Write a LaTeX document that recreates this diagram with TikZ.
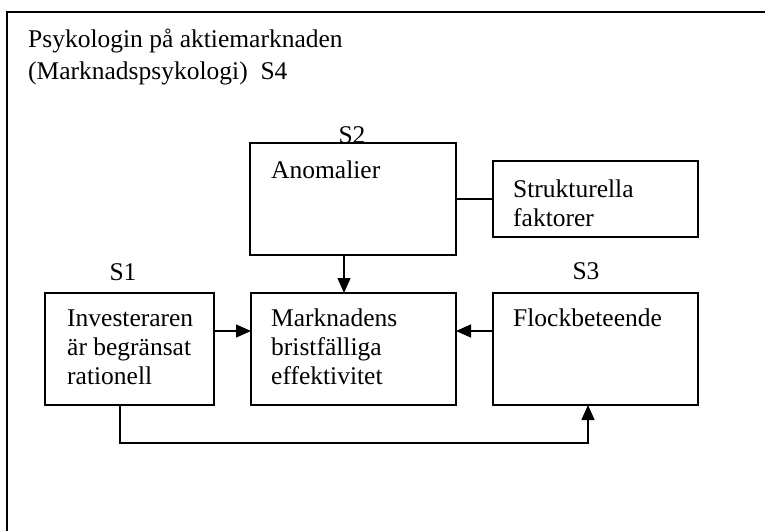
\documentclass[tikz,border=0pt]{standalone}
\usepackage{fontspec}
\setmainfont{Liberation Serif}
\usetikzlibrary{arrows.meta}
\tikzset{
  box/.style={draw, line width=1.7pt, inner sep=0pt, outer sep=0pt, rectangle},
  txt/.style={anchor=base west, inner sep=0pt, font=\fontsize{25.5}{29}\selectfont},
  lbl/.style={anchor=base, inner sep=0pt, font=\fontsize{25.5}{29}\selectfont},
  conn/.style={line width=1.3pt},
  arr/.style={line width=1.3pt, -{Triangle[length=15pt,width=13pt]}},
}
\begin{document}
\begin{tikzpicture}[x=1pt,y=-1pt]
\useasboundingbox (0,0) rectangle (765,530);
% outer frame
\coordinate (fbl) at (7,531);
\coordinate (ftl) at (7,12);
\coordinate (ftr) at (766,12);
\draw[line width=1.6pt] (fbl) -- (ftl) -- (ftr);
% title
\node[txt] (t1) at (28,47) {Psykologin på aktiemarknaden};
\node[txt] (t2) at (28,79) {(Marknadspsykologi)\hspace{0.5em}S4};
% boxes
\node[box, minimum width=206pt, minimum height=112pt] (anom) at (353,199) {};
\node[box, minimum width=205pt, minimum height=76pt] (strukt) at (595.5,199) {};
\node[box, minimum width=169pt, minimum height=112pt] (inv) at (129.5,349) {};
\node[box, minimum width=205pt, minimum height=112pt] (mark) at (353.5,349) {};
\node[box, minimum width=205pt, minimum height=112pt] (flock) at (595.5,349) {};
% labels
\node[lbl] (s1) at (123,280) {S1};
\node[lbl] (s2) at (352,143) {S2};
\node[lbl] (s3) at (586,279) {S3};
% box texts
\node[txt] (anomt) at (271,178) {Anomalier};
\node[txt] (strukta) at (513,197) {Strukturella};
\node[txt] (struktb) at (513,226) {faktorer};
\node[txt] (inva) at (67,326) {Investeraren};
\node[txt] (invb) at (67,355) {är begränsat};
\node[txt] (invc) at (67,384) {rationell};
\node[txt] (marka) at (271,326) {Marknadens};
\node[txt] (markb) at (271,355) {bristfälliga};
\node[txt] (markc) at (271,384) {effektivitet};
\node[txt] (flockt) at (513,326) {Flockbeteende};
% connectors
\draw[conn] (anom.east) -- (strukt.west);
\coordinate (anoms) at ([xshift=-9pt]anom.south);
\draw[arr] (anoms) -- (anoms |- mark.north);
\coordinate (inve) at ([yshift=18pt]inv.east);
\draw[arr] (inve) -- (inve -| mark.west);
\coordinate (flockw) at ([yshift=18pt]flock.west);
\draw[arr] (flockw) -- (flockw -| mark.east);
\coordinate (invs) at ([xshift=-9.5pt]inv.south);
\coordinate (flocks) at ([xshift=-7.5pt]flock.south);
\coordinate (loopy) at (0,443);
\draw[arr] (invs) -- (invs |- loopy) -- (flocks |- loopy) -- (flocks);
\end{tikzpicture}
\end{document}
